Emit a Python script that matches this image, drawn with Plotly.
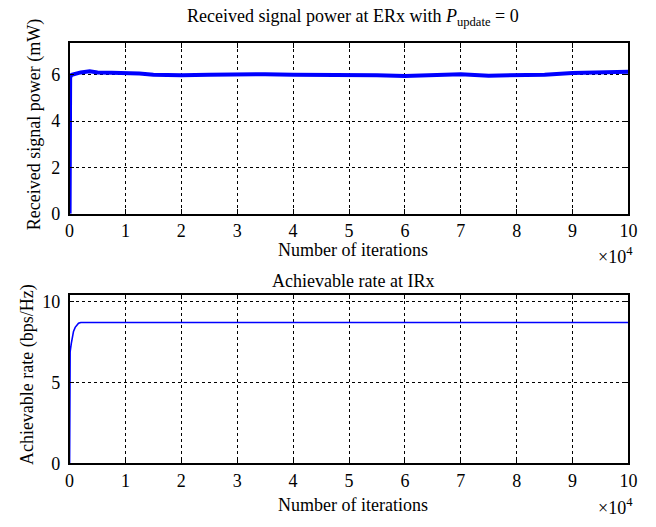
import plotly.graph_objects as go

W, H = 656, 527

# ---- data ----
iters_top = [0, 50, 100, 400, 1000, 2000, 3600, 5000, 7500, 10000, 12500, 15000, 17500,
             20000, 25000, 30000, 35000, 40000, 45000, 50000, 55000, 60000, 65000,
             70000, 75000, 80000, 85000, 90000, 95000, 100000]
power_mw = [0, 5.7, 5.9, 6.0, 6.05, 6.1, 6.15, 6.1, 6.08, 6.08, 6.05, 6.0, 5.97,
            5.98, 6.0, 6.02, 6.02, 6.0, 6.0, 6.0, 5.98, 5.94, 5.98, 6.02, 5.96,
            5.97, 6.0, 6.07, 6.1, 6.13]

iters_bot = [0, 50, 100, 300, 500, 700, 1000, 1300, 1600, 2000, 2500, 100000]
rate_bps = [0, 6.6, 6.9, 7.4, 7.8, 8.15, 8.4, 8.55, 8.65, 8.7, 8.7, 8.7]

x_ticks = [0, 1, 2, 3, 4, 5, 6, 7, 8, 9, 10]
top_y_ticks = [0, 2, 4, 6]
bot_y_ticks = [0, 5, 10]

FONT = "Liberation Serif, Times New Roman, serif"

def px(x):
    return x / W

def py(y):
    return 1 - y / H

fig = go.Figure()
fig.add_trace(go.Scatter(x=[v / 1e4 for v in iters_top], y=power_mw, mode="lines",
                         line=dict(color="#0000ff", width=4), xaxis="x", yaxis="y",
                         showlegend=False))
fig.add_trace(go.Scatter(x=[v / 1e4 for v in iters_bot], y=rate_bps, mode="lines",
                         line=dict(color="#0000ff", width=1.6), xaxis="x2", yaxis="y2",
                         showlegend=False))

axis_common = dict(showline=True, linecolor="black", linewidth=1.5, mirror="ticks",
                   ticks="inside", ticklen=5, tickwidth=1, tickcolor="black",
                   showgrid=True, gridcolor="black", gridwidth=1, griddash="dot",
                   zeroline=False, tickfont=dict(family=FONT, size=18, color="black"))

fig.update_layout(
    width=W, height=H, margin=dict(l=0, r=0, t=0, b=0),
    paper_bgcolor="white", plot_bgcolor="white",
    font=dict(family=FONT, color="black"),
    xaxis=dict(domain=[px(66), px(637)], range=[0, 10], tickvals=x_ticks,
               anchor="y", **axis_common),
    yaxis=dict(domain=[py(216), py(41)], range=[0, 7.37], tickvals=top_y_ticks,
               anchor="x", ticklabelstandoff=4, **axis_common),
    xaxis2=dict(domain=[px(66), px(637)], range=[0, 10], tickvals=x_ticks,
                anchor="y2", **axis_common),
    yaxis2=dict(domain=[py(472), py(299)], range=[0, 10.42], tickvals=bot_y_ticks,
                anchor="x2", ticklabelstandoff=4, **axis_common),
)

ann = []
def add(text, x, y, size=18, angle=0, xanchor="center"):
    ann.append(dict(text=text, x=px(x), y=py(y), xref="paper", yref="paper",
                    showarrow=False, textangle=angle, xanchor=xanchor, yanchor="middle",
                    font=dict(family=FONT, size=size, color="black")))

add("Received signal power at ERx with <i>P</i><sub>update</sub> = 0", 356, 15, 18)
add("Number of iterations", 356, 253, 18)
add("×10<sup>4</sup>", 644, 259, 18, xanchor="right")
add("Received signal power (mW)", 31, 125, 18, angle=-90)
add("Achievable rate at IRx", 356, 285, 18)
add("Number of iterations", 356, 515, 18)
add("×10<sup>4</sup>", 644, 516, 18, xanchor="right")
add("Achievable rate (bps/Hz)", 23, 381, 18, angle=-90)
fig.update_layout(annotations=ann)

fig.write_html("out.html")
